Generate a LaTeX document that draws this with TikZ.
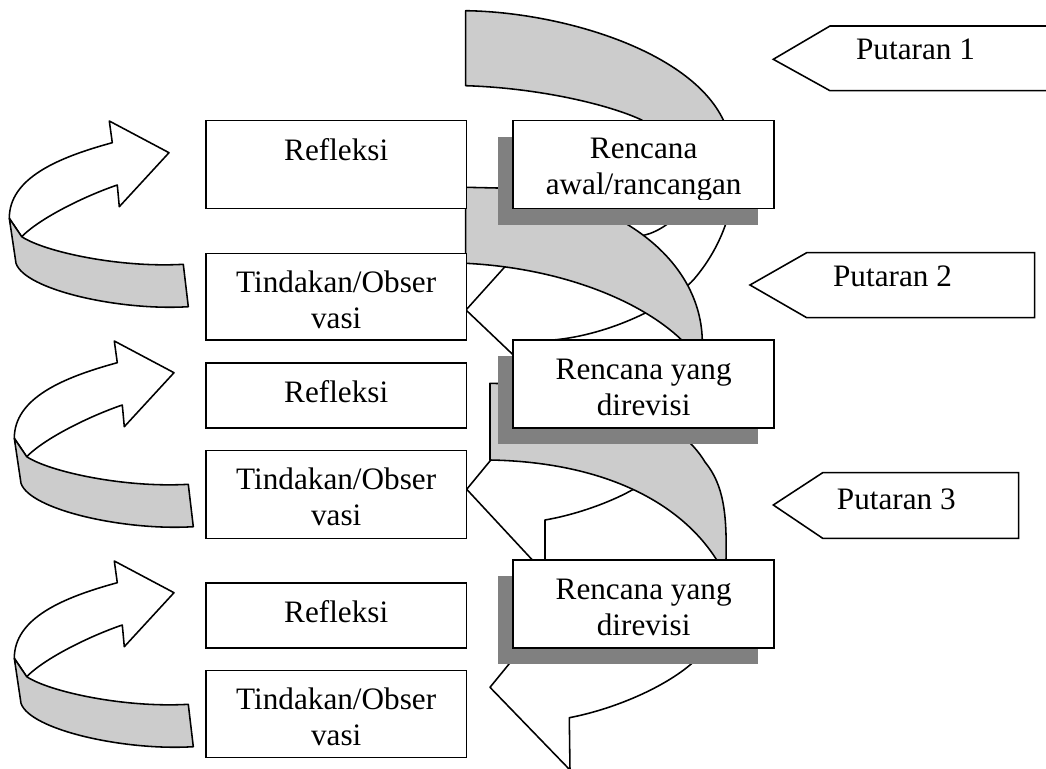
\documentclass[tikz,border=0pt]{standalone}
\usepackage{fontspec}
\setmainfont{Liberation Serif}
\usetikzlibrary{positioning,shadows}

\begin{document}
\begin{tikzpicture}[x=0.3846pt,y=-0.3846pt,line width=0.6pt,
   kotak/.style={draw,fill=white,minimum width=100.3pt,inner sep=0pt}]

\tikzstyle {teks} = [font=\fontsize{12}{13.8}\selectfont, align=center, anchor=base, inner sep=0pt];
\tikzstyle {pita} = [draw, fill=gray!40, line join=round];
\tikzstyle {muka} = [draw, fill=white, line join=round];
\tikzstyle {rencana} = [kotak, minimum height=33.9pt, drop shadow={shadow xshift=-6pt, shadow yshift=-6.2pt, fill=gray, opacity=1}];

\useasboundingbox (0,0) rectangle (1046,769);

% panah lengkung kiri
\foreach \dx/\dy in {0/0, 5/220, 5/440}{
\begin{scope}[shift={(\dx,\dy)}]
\draw[muka] (9.3,218.3) .. controls (9.3,178.3) and (57.3,157.7) .. (112.3,142.7) -- (109.3,121) -- (169,152.7) -- (119.3,206.7) -- (117.3,185) .. controls (85,196) and (40,218) .. (21.7,236.7) -- cycle;
\draw[pita] (21.7,236.7) .. controls (45,252) and (120,268) .. (183.3,264.3) -- (188.3,306.7) .. controls (120,311) and (25,290) .. (16,263.3) -- (9.3,218.3) -- cycle;
\end{scope}}

% spiral putaran 1
\draw[pita] (465.7,10.7) .. controls (560,12) and (690,50) .. (723.3,120) .. controls (733,140) and (736,150) .. (735,165) -- (690,170) -- (641.7,120) .. controls (610,105) and (540,88) .. (465.7,85.7) -- cycle;
\draw[muka] (735,160) .. controls (737,215) and (715,255) .. (693.3,280) .. controls (670,305) and (610,335) .. (553,340) -- (548,343) -- (548,388) -- (466,310) -- (512.8,258) -- (520,248) .. controls (580,246) and (630,240) .. (650,233.5) .. controls (665,228) and (695,210) .. (705,160) -- cycle;

% spiral putaran 2
\draw[pita] (465.7,187.3) -- (497,188) .. controls (600,190) and (700,250) .. (702.3,340) -- (703,395) .. controls (700,370) and (695,353) .. (681.7,340) .. controls (640,300) and (560,268) .. (465.7,263.3) -- cycle;
\draw[muka] (705,400) .. controls (700,440) and (665,472) .. (633.3,489.3) .. controls (615,500) and (580,514) .. (545,520) -- (545,573.6) -- (466.7,489.3) -- (501.7,446.8) -- (512,440) -- (690,380) -- cycle;

% spiral putaran 3
\draw[pita] (490,383.3) -- (497,383.5) .. controls (610,384) and (680,420) .. (705,462) .. controls (724,485) and (727,515) .. (726,560) -- (727,600) -- (724,600) .. controls (722,585) and (720,570) .. (718,562) .. controls (680,500) and (600,462) .. (490,460) -- cycle;
\draw[muka] (727,600) .. controls (727,625) and (715,645) .. (690,665) .. controls (660,690) and (610,710) .. (569.3,717.7) -- (570,770) -- (490,687.3) -- (515.6,656) -- (525,648) -- (700,600) -- cycle;

% kotak kiri
\node[kotak, minimum height=33.7pt] (ref1) at (336.2,164.5) {};
\node[kotak, minimum height=33.35pt] (tin1) at (336.2,296.65) {};
\node[kotak, minimum height=25.2pt] (ref2) at (336.2,395.5) {};
\node[kotak, minimum height=33.7pt] (tin2) at (336.2,494.5) {};
\node[kotak, minimum height=25.2pt] (ref3) at (336.2,615.5) {};
\node[kotak, minimum height=33.45pt] (tin3) at (336.2,714.2) {};

\node[teks] (tref1) at ([yshift=-15.6pt]ref1.north) {Refleksi};
\node[teks] (ttin1) at ([yshift=-29.2pt]tin1.north) {Tindakan/Obser\\vasi};
\node[teks] (tref2) at ([yshift=-15.6pt]ref2.north) {Refleksi};
\node[teks] (ttin2) at ([yshift=-29.2pt]tin2.north) {Tindakan/Obser\\vasi};
\node[teks] (tref3) at ([yshift=-15.6pt]ref3.north) {Refleksi};
\node[teks] (ttin3) at ([yshift=-29.2pt]tin3.north) {Tindakan/Obser\\vasi};

% kotak rencana
\node[rencana] (ren1) at (643.65,164.5) {};
\node[rencana] (ren2) at (643.65,384.15) {};
\node[rencana] (ren3) at (643.65,604.15) {};

\begin{scope}
\clip (ren1.north west) rectangle ([yshift=3.6pt]ren1.south east);
\node[teks] (tren1) at ([yshift=-28.65pt]ren1.north) {Rencana\\awal/rancangan};
\end{scope}
\node[teks] (tren2) at ([yshift=-29.2pt]ren2.north) {Rencana yang\\direvisi};
\node[teks] (tren3) at ([yshift=-29.2pt]ren3.north) {Rencana yang\\direvisi};

% putaran
\draw[fill=white] (773.3,59.3) -- (830,26) -- (1060,26) -- (1060,90.7) -- (830,90.7) -- cycle;
\draw[fill=white] (750,285) -- (806.7,252.7) -- (1034.7,252.7) -- (1034.7,317.7) -- (806.7,317.7) -- cycle;
\draw[fill=white] (773.3,505) -- (822.7,472.7) -- (1018.7,472.7) -- (1018.7,538.3) -- (822.7,538.3) -- cycle;
\node[teks] (put1) at (915.5,60) {Putaran 1};
\node[teks] (put2) at (892.5,286.7) {Putaran 2};
\node[teks] (put3) at (896.3,509.3) {Putaran 3};

\end{tikzpicture}
\end{document}
